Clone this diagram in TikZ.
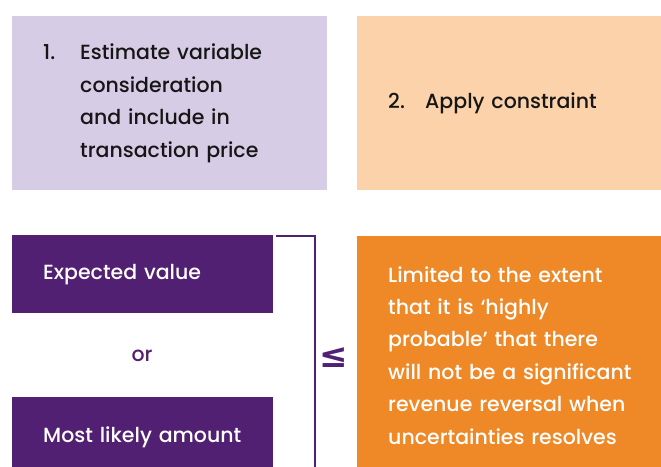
\documentclass[tikz,border=0pt]{standalone}
\usepackage{fontspec}
\setmainfont{Poppins}[UprightFont={* Medium}]
\newfontfamily\symfont{DejaVu Sans}
\usepackage{tikz}
\definecolor{lav}{HTML}{D7CCE5}
\definecolor{peach}{HTML}{FBD2AA}
\definecolor{plum}{HTML}{512072}
\definecolor{amber}{HTML}{EF8826}
\definecolor{ink}{HTML}{161616}

\begin{document}
\begin{tikzpicture}[line cap=rect,line join=miter,x=1pt,y=-1pt,
  box/.style={anchor=north west,inner xsep=31pt,inner ysep=0pt,align=left,
    font=\fontsize{20.5}{32.4}\selectfont},
  darkbox/.style={box,fill=plum,text=white},
  bracket/.style={draw=plum,line width=2pt}]
\useasboundingbox (0,0) rectangle (661,466);
\node[box,fill=lav,text=ink,minimum width=315pt,minimum height=174pt,text width=253pt] (est) at (12,16)
  {\makebox[37pt][l]{1.}Estimate variable\\\hspace*{37pt}consideration\\\hspace*{37pt}and include in\\\hspace*{37pt}transaction price};
\node[box,fill=peach,text=ink,minimum width=304pt,minimum height=174pt,text width=258pt] (con) at (357,16)
  {\makebox[37pt][l]{2.}Apply constraint};
\node[darkbox,minimum width=261pt,minimum height=78pt,text width=199pt] (ev) at (12,235) {Expected value};
\node[darkbox,minimum width=261pt,minimum height=80pt,text width=199pt] (ml) at (12,397) {Most likely amount};
\node[text=plum,font=\fontsize{20.5}{24}\selectfont] (or) at (142,356) {or};
\node[box,fill=amber,text=white,minimum width=304pt,minimum height=238pt,text width=258pt] (lim) at (357,236)
  {Limited to the extent\\that it is `highly\\probable' that there\\will not be a significant\\revenue reversal when\\uncertainties resolves};
\draw[bracket] (277,236) -- (315,236) -- (315,466);
\node[text=plum,font=\symfont\bfseries\fontsize{34}{34}\selectfont] (le) at (334,358) {≤};
\end{tikzpicture}
\end{document}
